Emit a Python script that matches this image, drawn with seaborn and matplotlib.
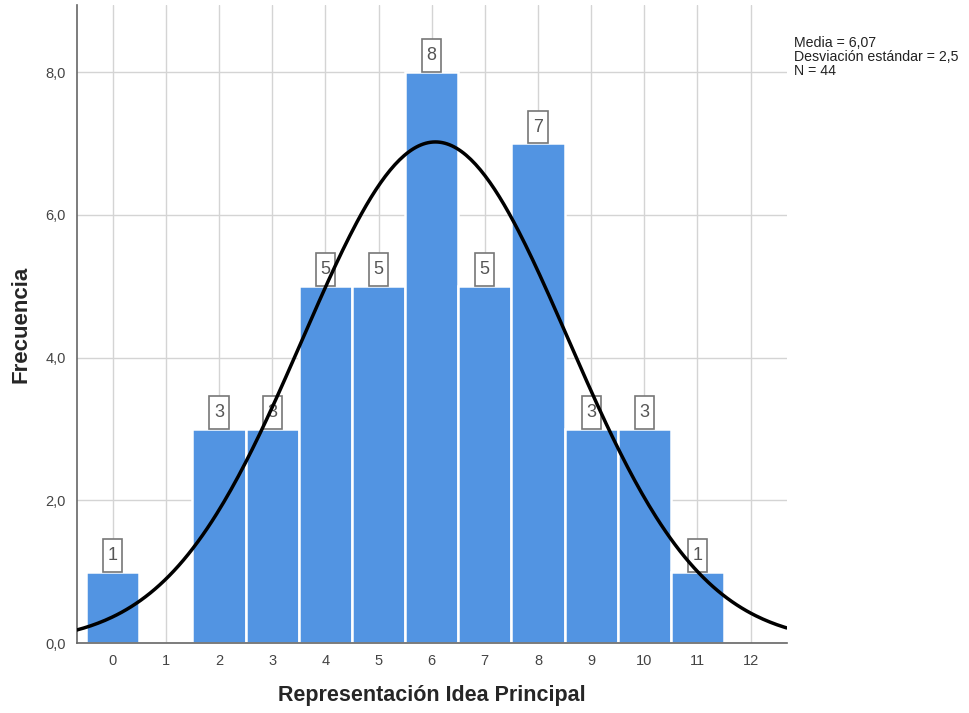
import matplotlib
matplotlib.use("Agg")
import matplotlib.pyplot as plt
from matplotlib.patches import Rectangle
import numpy as np
import pandas as pd
import seaborn as sns

valores = [0, 1, 2, 3, 4, 5, 6, 7, 8, 9, 10, 11]
frecuencias = [1, 0, 3, 3, 5, 5, 8, 5, 7, 3, 3, 1]
media = 6.07
desviacion = 2.5
n_total = 44
y_ticks = [0, 2, 4, 6, 8]
y_tick_labels = ["0,0", "2,0", "4,0", "6,0", "8,0"]

sns.set_style("white")
plt.rcParams["font.family"] = ["Liberation Sans", "DejaVu Sans"]

df = pd.DataFrame({"valor": valores, "frecuencia": frecuencias})

fig = plt.figure(figsize=(9.7, 7.13), dpi=100)
ax = fig.add_axes([0.079, 0.098, 0.732, 0.895])

# Barras
sns.histplot(data=df, x="valor", weights="frecuencia", discrete=True, shrink=1,
             color="#5294e2", alpha=1, edgecolor="white", linewidth=1.8, ax=ax, zorder=2)

# Curva normal
xs = np.linspace(-0.68, 12.68, 300)
ys = n_total / (desviacion * np.sqrt(2 * np.pi)) * np.exp(-0.5 * ((xs - media) / desviacion) ** 2)
sns.lineplot(x=xs, y=ys, color="black", linewidth=2.5, ax=ax, zorder=4)

# Etiquetas de cada barra (caja alta y estrecha como en SPSS)
caja_w = 0.36
caja_h = 0.46
for v, f in zip(valores, frecuencias):
    if f == 0:
        continue
    ax.add_patch(Rectangle((v - caja_w / 2, f), caja_w, caja_h, facecolor="white",
                           edgecolor="#777777", linewidth=1.2, zorder=3))
    ax.text(v, f + caja_h / 2, str(f), ha="center", va="center", fontsize=13,
            color="#555555", zorder=3)

ax.set_xlim(-0.68, 12.68)
ax.set_ylim(0, 8.94)
ax.set_xticks(valores + [12])
ax.set_xticklabels([str(v) for v in valores + [12]], fontsize=10.5, color="#444444")
ax.set_yticks(y_ticks)
ax.set_yticklabels(y_tick_labels, fontsize=10.5, color="#444444")
ax.tick_params(axis="both", length=0, pad=8)

ax.grid(True, color="#d4d4d4", linewidth=1)
ax.set_axisbelow(True)
for s in ["top", "right"]:
    ax.spines[s].set_visible(False)
for s in ["left", "bottom"]:
    ax.spines[s].set_color("#666666")
    ax.spines[s].set_linewidth(1.2)

ax.set_xlabel("Representación Idea Principal", fontsize=15.5, fontweight="bold", labelpad=12)
ax.set_ylabel("Frecuencia", fontsize=16, fontweight="bold", labelpad=10)

fig.text(0.819, 0.95, "Media = 6,07\nDesviación estándar = 2,5\nN = 44",
         fontsize=10.2, va="top", ha="left", color="#222222", linespacing=1.02)

fig.savefig("out.png", dpi=100)
